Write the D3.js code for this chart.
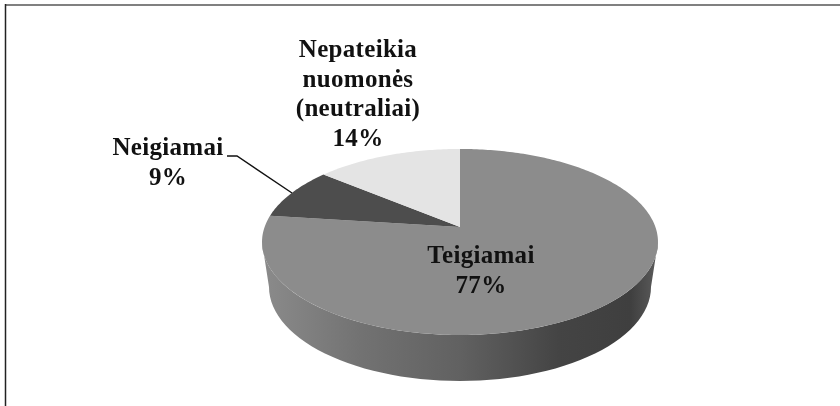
<!DOCTYPE html>
<html>
<head>
<meta charset="utf-8">
<style>
html, body { margin: 0; padding: 0; background: #fff; }
svg { display: block; filter: blur(0.4px); }
.label { font: bold 25px "Liberation Serif", serif; fill: #111; text-anchor: middle; letter-spacing: 0.3px; }
</style>
</head>
<body>
<svg width="840" height="406"></svg>
<script src="https://d3js.org/d3.v7.min.js"></script>
<script>

var categories = ["Teigiamai", "Neigiamai", "Nepateikia nuomonės (neutraliai)"];
var values = [77, 9, 14];
var sliceColors = ["#8c8c8c", "#4d4d4d", "#e4e4e4"];
var labelLines = [
  ["Teigiamai", "77%"],
  ["Neigiamai", "9%"],
  ["Nepateikia", "nuomonės", "(neutraliai)", "14%"]
];

var svg = d3.select("svg");

// frame, only top and left are visible in the original
svg.append("line").attr("x1", 5).attr("x2", 840).attr("y1", 5).attr("y2", 5)
    .attr("stroke", "#808080").attr("stroke-width", 2);
svg.append("line").attr("x1", 5.5).attr("x2", 5.5).attr("y1", 4).attr("y2", 406)
    .attr("stroke", "#222").attr("stroke-width", 1.5);

// tilted disc: perspective projection of the unit circle
var cx = 460, apexY = 227, scaleX = 195.4, scaleY = 90.6, persp = 0.161;

function project(angle, r) {
  var px = r * Math.sin(angle), py = -r * Math.cos(angle);
  var d = 1 - persp * py;
  return [cx + scaleX * px / d, apexY + scaleY * py / d];
}

function angleSteps(a0, a1) {
  var n = Math.max(2, Math.ceil((a1 - a0) * 60));
  return d3.range(n + 1).map(function(i) { return a0 + (a1 - a0) * i / n; });
}

var line = d3.line();

var defs = svg.append("defs");
var grad = defs.append("linearGradient")
    .attr("id", "side")
    .attr("gradientUnits", "userSpaceOnUse")
    .attr("x1", 262).attr("x2", 658).attr("y1", 0).attr("y2", 0);
[[0, "#8b8b8b"], [0.25, "#727272"], [0.5, "#616161"], [0.75, "#444444"], [0.93, "#3f3f3f"], [1, "#5c5c5c"]]
  .forEach(function(s) {
    grad.append("stop").attr("offset", s[0]).attr("stop-color", s[1]);
  });

// side wall: lower edge of the top face, closed by the smaller bottom ellipse
var topRx = 198, topRy = 93, topCy = 242;
var botRx = 191, botRy = 94, botCy = 287;
var sideAngles = d3.range(0, 181, 3).map(function(d) { return d * Math.PI / 180; });
var sidePts = sideAngles.map(function(a) {
  return [cx + botRx * Math.cos(a), botCy + botRy * Math.sin(a)];
}).concat(sideAngles.slice().reverse().map(function(a) {
  return [cx + topRx * Math.cos(a), topCy + topRy * Math.sin(a)];
}));
svg.append("path")
    .attr("d", line(sidePts) + "Z")
    .attr("fill", "url(#side)");

var pie = d3.pie().sort(null);

svg.append("g").selectAll("path")
  .data(pie(values))
  .enter().append("path")
    .attr("fill", function(d, i) { return sliceColors[i]; })
    .attr("d", function(d) {
      var pts = angleSteps(d.startAngle, d.endAngle).map(function(a) { return project(a, 1); });
      return line([project(0, 0)].concat(pts)) + "Z";
    })
  .append("title")
    .text(function(d, i) { return categories[i]; });

// leader line for the small slice
svg.append("path")
    .attr("d", line([[227, 156], [237, 156], [292, 193]]))
    .attr("fill", "none")
    .attr("stroke", "#111")
    .attr("stroke-width", 1.4);

var labelPos = [
  { x: 481, y: 263, dy: 30 },
  { x: 168, y: 155, dy: 30 },
  { x: 358, y: 57, dy: 29.5 }
];

labelLines.forEach(function(lines, i) {
  var g = svg.append("g");
  g.selectAll("text")
    .data(lines)
    .enter().append("text")
      .attr("class", "label")
      .attr("x", labelPos[i].x)
      .attr("y", function(d, j) { return labelPos[i].y + j * labelPos[i].dy; })
      .text(function(d) { return d; });
});

</script>
</body>
</html>
